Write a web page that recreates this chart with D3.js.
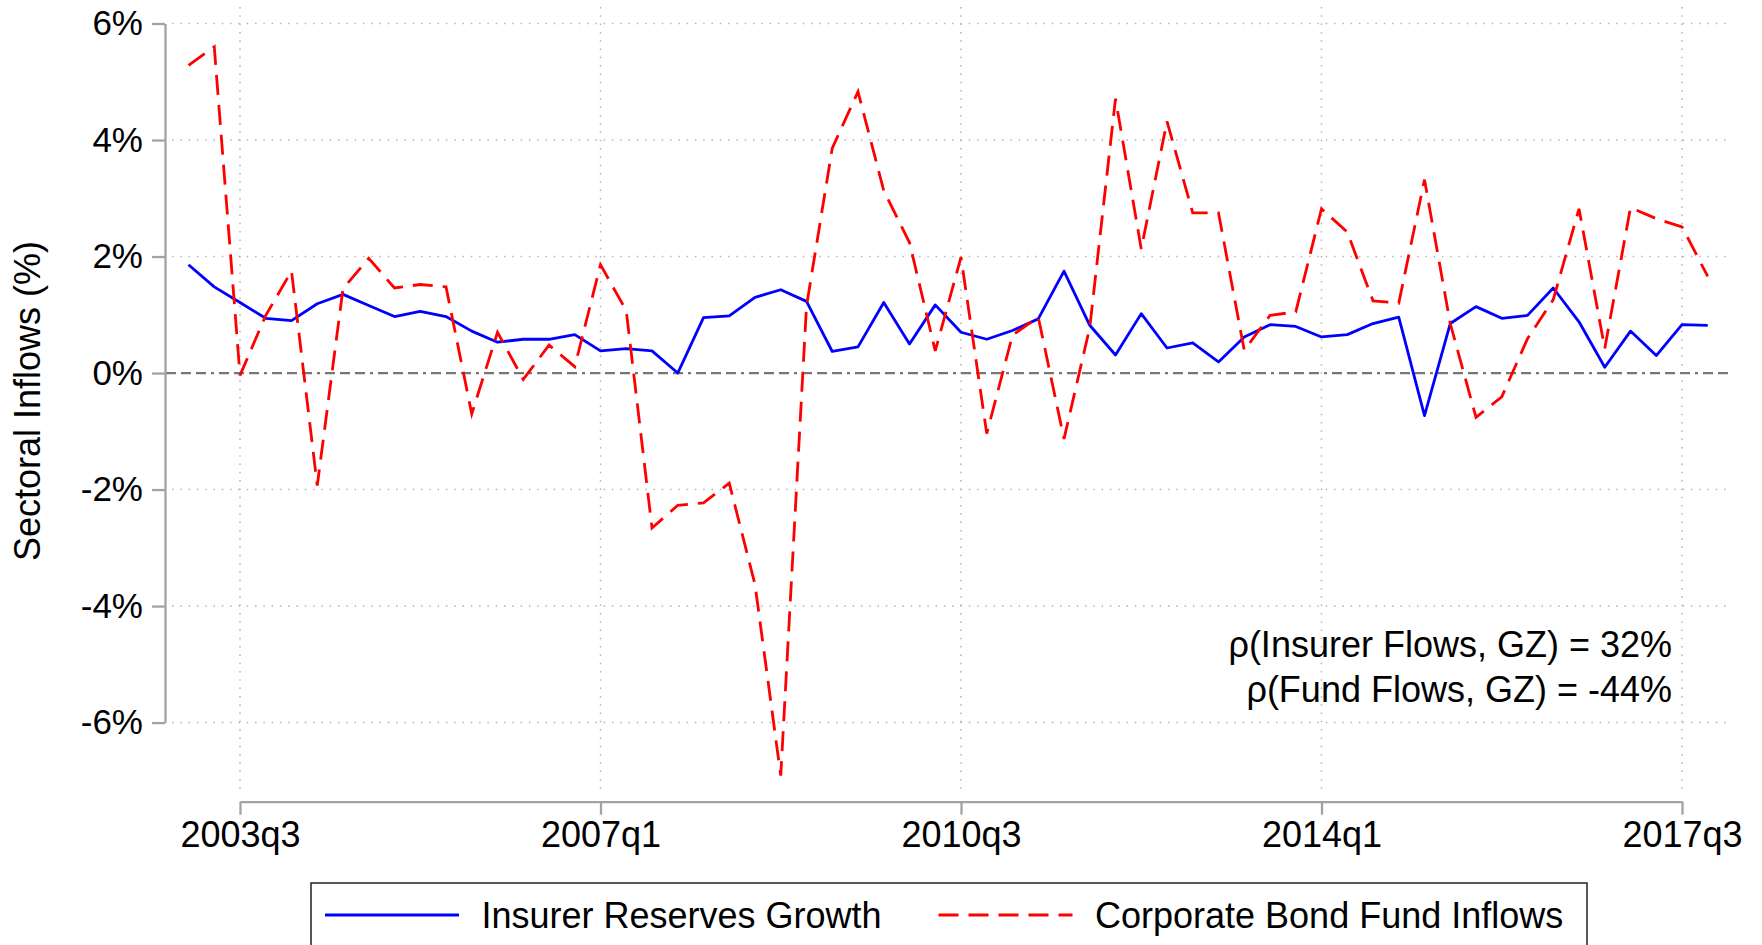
<!DOCTYPE html>
<html>
<head>
<meta charset="utf-8">
<script src="https://cdn.jsdelivr.net/npm/d3@7"></script>
<style>
  body { margin: 0; background: #fff; }
  text { font-family: "Liberation Sans", Arial, sans-serif; fill: #000; }
</style>
</head>
<body>
<svg id="chart" width="1762" height="945"></svg>
<script>
/**
 * Insurer reserves growth vs corporate bond fund inflows, quarterly.
 */

// Data.
var QUARTERS = [
  '2003q1','2003q2','2003q3','2003q4','2004q1','2004q2','2004q3','2004q4',
  '2005q1','2005q2','2005q3','2005q4','2006q1','2006q2','2006q3','2006q4',
  '2007q1','2007q2','2007q3','2007q4','2008q1','2008q2','2008q3','2008q4',
  '2009q1','2009q2','2009q3','2009q4','2010q1','2010q2','2010q3','2010q4',
  '2011q1','2011q2','2011q3','2011q4','2012q1','2012q2','2012q3','2012q4',
  '2013q1','2013q2','2013q3','2013q4','2014q1','2014q2','2014q3','2014q4',
  '2015q1','2015q2','2015q3','2015q4','2016q1','2016q2','2016q3','2016q4',
  '2017q1','2017q2','2017q3','2017q4'
];
var INSURER_GROWTH = [
  1.86, 1.48, 1.21, 0.94, 0.90, 1.19, 1.35, 1.16, 0.97, 1.06,
  0.97, 0.72, 0.53, 0.58, 0.58, 0.66, 0.38, 0.42, 0.38, 0.00,
  0.95, 0.98, 1.30, 1.43, 1.23, 0.37, 0.45, 1.21, 0.50, 1.17,
  0.70, 0.58, 0.73, 0.93, 1.75, 0.82, 0.31, 1.02, 0.43, 0.52,
  0.19, 0.62, 0.83, 0.80, 0.62, 0.66, 0.85, 0.96, -0.73, 0.85,
  1.14, 0.94, 0.99, 1.46, 0.88, 0.10, 0.72, 0.30, 0.83, 0.82
];
var FUND_INFLOWS = [
  5.28, 5.60, -0.04, 0.99, 1.75, -1.93, 1.45, 1.97, 1.46, 1.52,
  1.48, -0.70, 0.70, -0.11, 0.48, 0.11, 1.86, 1.07, -2.66, -2.27,
  -2.23, -1.89, -3.63, -6.91, 1.15, 3.86, 4.83, 3.13, 2.24, 0.38,
  1.99, -1.04, 0.65, 0.96, -1.13, 0.78, 4.71, 2.13, 4.32, 2.75,
  2.75, 0.39, 0.99, 1.05, 2.82, 2.42, 1.24, 1.20, 3.32, 0.85,
  -0.76, -0.41, 0.59, 1.26, 2.82, 0.42, 2.84, 2.65, 2.51, 1.66
];
var X_TICKS = ['2003q3', '2007q1', '2010q3', '2014q1', '2017q3'];
var Y_TICKS = [-6, -4, -2, 0, 2, 4, 6];
var SERIES_NAMES = ['Insurer Reserves Growth', 'Corporate Bond Fund Inflows'];
var NOTES = ['\u03c1(Insurer Flows, GZ) = 32%', '\u03c1(Fund Flows, GZ) = -44%'];

// Layout.
var PLOT_LEFT = 172;
var PLOT_RIGHT = 1728;
var PLOT_TOP = 7;
var PLOT_BOTTOM = 795;
var FONT_SIZE = 36;
var Y_TICK_FONT = 35;
var GRID_COLOR = '#b3b3b3';
var AXIS_COLOR = '#a3a3a3';
var RED_DASH = '20,10';

var svg = d3.select('#chart');

// Scales: x runs over quarter index, axis spans first to last labelled tick.
var x = d3.scaleLinear()
  .domain([QUARTERS.indexOf(X_TICKS[0]), QUARTERS.indexOf(X_TICKS[X_TICKS.length - 1])])
  .range([240, 1682]);
var y = d3.scaleLinear()
  .domain([Y_TICKS[0], Y_TICKS[Y_TICKS.length - 1]])
  .range([722.6, 23.5]);

/**
 * drawGrid
 * ========
 * Dotted gridlines plus the dash-dot zero line.
 */
var drawGrid = function() {
  var grid = svg.append('g');
  grid.selectAll('line.h')
    .data(Y_TICKS.filter(function(d) { return d !== 0; }))
    .enter()
    .append('line')
    .attr('x1', PLOT_LEFT)
    .attr('x2', PLOT_RIGHT)
    .attr('y1', function(d) { return y(d); })
    .attr('y2', function(d) { return y(d); })
    .attr('stroke', GRID_COLOR)
    .attr('stroke-width', 1.5)
    .attr('stroke-dasharray', '1.5,6.8');

  grid.selectAll('line.v')
    .data(X_TICKS)
    .enter()
    .append('line')
    .attr('x1', function(d) { return x(QUARTERS.indexOf(d)); })
    .attr('x2', function(d) { return x(QUARTERS.indexOf(d)); })
    .attr('y1', PLOT_TOP)
    .attr('y2', PLOT_BOTTOM)
    .attr('stroke', GRID_COLOR)
    .attr('stroke-width', 1.5)
    .attr('stroke-dasharray', '1.5,6.8');

  grid.append('line')
    .attr('x1', PLOT_LEFT - 6)
    .attr('x2', PLOT_RIGHT + 4)
    .attr('y1', y(0))
    .attr('y2', y(0))
    .attr('stroke', '#777')
    .attr('stroke-width', 2.3)
    .attr('stroke-dasharray', '10,5,10,5,10,5,3,5');
};

/**
 * drawAxes
 * ========
 */
var drawAxes = function() {
  var yAxis = d3.axisLeft(y)
    .tickValues(Y_TICKS)
    .tickSize(13)
    .tickSizeOuter(0)
    .tickPadding(9)
    .tickFormat(function(d) { return d + '%'; });
  var gy = svg.append('g')
    .attr('transform', 'translate(165,0)')
    .call(yAxis);

  var xAxis = d3.axisBottom(x)
    .tickValues(X_TICKS.map(function(d) { return QUARTERS.indexOf(d); }))
    .tickSize(13)
    .tickSizeOuter(0)
    .tickPadding(7)
    .tickFormat(function(d) { return QUARTERS[d]; });
  var gx = svg.append('g')
    .attr('transform', 'translate(0,801.7)')
    .call(xAxis);

  [gy, gx].forEach(function(g) {
    g.selectAll('path, line')
      .attr('stroke', AXIS_COLOR)
      .attr('stroke-width', 2.3);
    g.selectAll('text')
      .attr('font-family', '"Liberation Sans", Arial, sans-serif')
      .attr('fill', '#000');
  });
  gy.selectAll('text').attr('font-size', Y_TICK_FONT);
  gx.selectAll('text').attr('font-size', FONT_SIZE);

  svg.append('text')
    .attr('transform', 'translate(40,401) rotate(-90)')
    .attr('text-anchor', 'middle')
    .attr('font-size', FONT_SIZE)
    .text('Sectoral Inflows (%)');
};

/**
 * drawSeries
 * ==========
 */
var drawSeries = function() {
  var line = d3.line()
    .x(function(d, i) { return x(i); })
    .y(function(d) { return y(d); });

  svg.append('path')
    .datum(INSURER_GROWTH)
    .attr('d', line)
    .attr('fill', 'none')
    .attr('stroke', '#0000ff')
    .attr('stroke-width', 2.8)
    .attr('stroke-linejoin', 'round');

  svg.append('path')
    .datum(FUND_INFLOWS)
    .attr('d', line)
    .attr('fill', 'none')
    .attr('stroke', '#ff0000')
    .attr('stroke-width', 2.8)
    .attr('stroke-dasharray', RED_DASH);
};

/**
 * drawNotes
 * =========
 * Correlation notes, right aligned in the lower right corner.
 */
var drawNotes = function() {
  svg.selectAll('text.note')
    .data(NOTES)
    .enter()
    .append('text')
    .attr('class', 'note')
    .attr('x', 1672)
    .attr('y', function(d, i) { return 656.7 + i * 45; })
    .attr('text-anchor', 'end')
    .attr('font-size', FONT_SIZE)
    .text(function(d) { return d; });
};

/**
 * drawLegend
 * ==========
 * Box runs off the bottom edge as in the original export.
 */
var drawLegend = function() {
  var legend = svg.append('g');
  legend.append('rect')
    .attr('x', 311)
    .attr('y', 883)
    .attr('width', 1276)
    .attr('height', 90)
    .attr('fill', '#fff')
    .attr('stroke', '#222')
    .attr('stroke-width', 1.5);

  var keyX = [325, 938.5];
  var styles = [
    {color: '#0000ff', dash: null},
    {color: '#ff0000', dash: RED_DASH}
  ];
  SERIES_NAMES.forEach(function(name, i) {
    legend.append('line')
      .attr('x1', keyX[i])
      .attr('x2', keyX[i] + 134)
      .attr('y1', 915)
      .attr('y2', 915)
      .attr('stroke', styles[i].color)
      .attr('stroke-width', 2.8)
      .attr('stroke-dasharray', styles[i].dash);
    legend.append('text')
      .attr('x', keyX[i] + 156.5)
      .attr('y', 928)
      .attr('font-size', FONT_SIZE)
      .text(name);
  });
};

drawGrid();
drawSeries();
drawAxes();
drawNotes();
drawLegend();
</script>
</body>
</html>
